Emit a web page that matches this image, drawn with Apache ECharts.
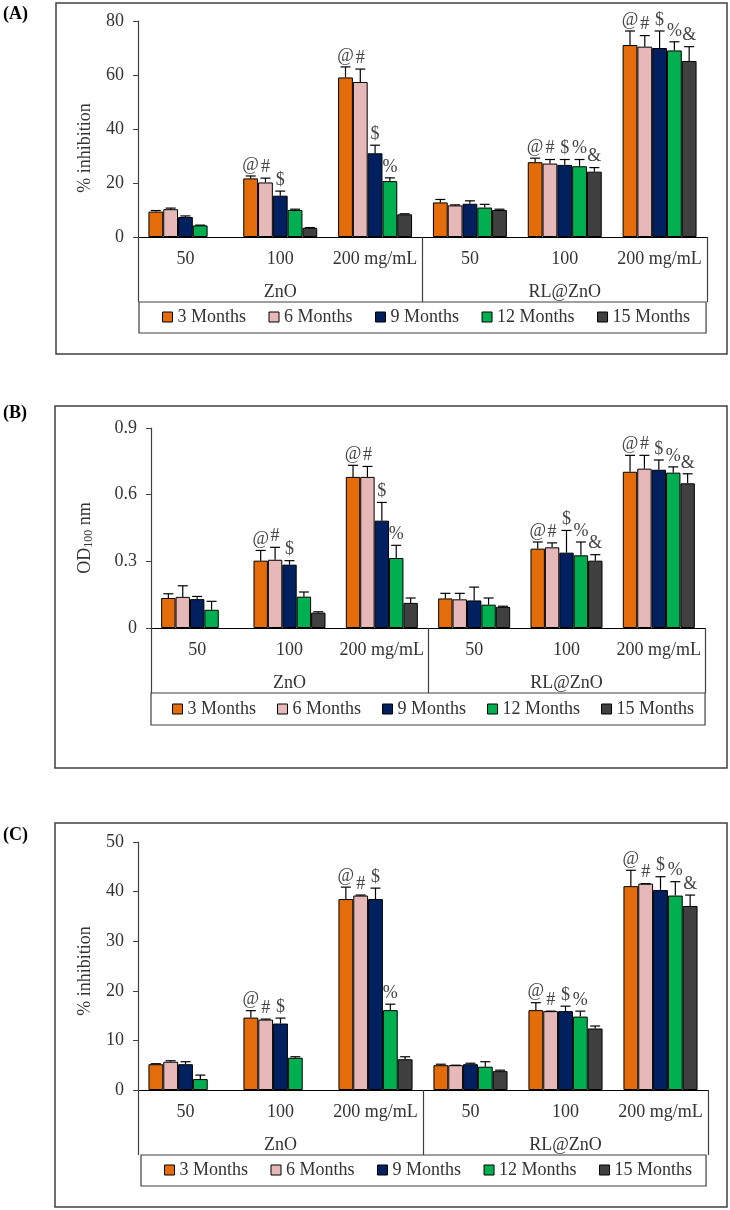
<!DOCTYPE html>
<html>
<head>
<meta charset="utf-8">
<script src="https://cdn.jsdelivr.net/npm/echarts@6/dist/echarts.min.js"></script>
<style>
  html, body { margin: 0; padding: 0; background: #fff; }
  #c { width: 730px; height: 1210px; }
</style>
</head>
<body>
<div id="c"></div>
<script>
// ---------- data ----------
const categories = ['50', '100', '200 mg/mL', '50', '100', '200 mg/mL'];
const groups = ['ZnO', 'RL@ZnO'];
const seriesNames = ['3 Months', '6 Months', '9 Months', '12 Months', '15 Months'];
const markSymbols = ['@', '#', '$', '%', '&'];
const colors = ['#E46C0A', '#E6B9B8', '#002060', '#00B050', '#404040'];

// Panel A: % inhibition
const a3  = [9.4, 21.7, 59.1, 12.8, 27.7, 71.1];
const a6  = [10.3, 20.2, 57.4, 11.7, 27.2, 70.5];
const a9  = [7.4, 15.3, 31.0, 12.3, 26.7, 70.0];
const a12 = [4.3, 10.0, 20.7, 10.9, 26.2, 69.1];
const a15 = [null, 3.4, 8.4, 10.0, 24.2, 65.2];
const a3e  = [0.4, 0.9, 3.9, 1.1, 1.5, 5.2];
const a6e  = [0.4, 1.6, 4.8, 0.2, 1.5, 4.1];
const a9e  = [0.4, 1.7, 3.0, 1.1, 2.0, 6.3];
const a12e = [0.1, 0.3, 1.2, 1.2, 2.5, 3.2];
const a15e = [null, 0.1, 0.2, 0.3, 1.5, 5.3];
const aMarks = [[0,1,1,0,1,1],[0,1,1,0,1,1],[0,1,1,0,1,1],[0,0,1,0,1,1],[0,0,0,0,1,1]];
const aTicks = [0, 80, 20];

// Panel B: OD100 nm
const b3  = [0.135, 0.303, 0.680, 0.133, 0.357, 0.703];
const b6  = [0.140, 0.307, 0.680, 0.129, 0.363, 0.717];
const b9  = [0.130, 0.285, 0.483, 0.124, 0.339, 0.712];
const b12 = [0.082, 0.141, 0.315, 0.105, 0.327, 0.699];
const b15 = [null, 0.069, 0.113, 0.095, 0.303, 0.651];
const b3e  = [0.019, 0.046, 0.052, 0.023, 0.030, 0.074];
const b6e  = [0.050, 0.056, 0.047, 0.027, 0.020, 0.060];
const b9e  = [0.012, 0.018, 0.082, 0.060, 0.100, 0.044];
const b12e = [0.038, 0.021, 0.057, 0.030, 0.060, 0.026];
const b15e = [null, 0.004, 0.022, 0.003, 0.027, 0.043];
const bMarks = [[0,1,1,0,1,1],[0,1,1,0,1,1],[0,1,1,0,1,1],[0,0,1,0,1,1],[0,0,0,0,1,1]];
const bTicks = [0, 0.9, 0.3];

// Panel C: % inhibition
const c3  = [5.2, 14.6, 38.5, 5.0, 16.1, 41.1];
const c6  = [5.7, 14.2, 39.2, 5.0, 15.9, 41.6];
const c9  = [5.2, 13.4, 38.5, 5.2, 15.9, 40.3];
const c12 = [2.2, 6.5, 16.1, 4.7, 14.8, 39.2];
const c15 = [null, null, 6.2, 3.8, 12.4, 37.1];
const c3e  = [0.1, 1.4, 2.4, 0.2, 1.5, 3.2];
const c6e  = [0.2, 0.1, 0.1, 0.0, 0.0, 0.0];
const c9e  = [0.5, 1.1, 2.2, 0.2, 1.0, 2.7];
const c12e = [0.8, 0.2, 1.2, 1.0, 1.1, 2.8];
const c15e = [null, null, 0.5, 0.2, 0.5, 2.2];
const cMarks = [[0,1,1,0,1,1],[0,1,1,0,1,1],[0,1,1,0,1,1],[0,0,1,0,1,1],[0,0,0,0,0,1]];
const cTicks = [0, 50, 10];

// ---------- layout ----------
const FONT = 'Liberation Serif';
const INK = '#333';
const LINE = '#404040';
const GAP_RATIO = 0.22;

const panels = [
  { vals: [a3, a6, a9, a12, a15], errs: [a3e, a6e, a9e, a12e, a15e], marks: aMarks, ticks: aTicks,
    grid: { left: 138, right: 23, top: 21, height: 216 },
    legend: { left: 139, top: 302, padding: [6, 16, 7, 23], gap: 22.5 },
    frame: { x: 56, y: 3, width: 671, height: 351 },
    label: { text: '(A)', x: 3, y: 14 },
    title: { text: '% inhibition', x: 85, y: 148 } },
  { vals: [b3, b6, b9, b12, b15], errs: [b3e, b6e, b9e, b12e, b15e], marks: bMarks, ticks: bTicks,
    grid: { left: 151, right: 25, top: 428, height: 200 },
    legend: { left: 151, top: 693, padding: [7, 11, 7, 21], gap: 21 },
    frame: { x: 55, y: 406, width: 672, height: 362 },
    label: { text: '(B)', x: 3, y: 413 },
    title: { text: '{a|OD}{s|100}{a| nm}', x: 85, y: 538 } },
  { vals: [c3, c6, c9, c12, c15], errs: [c3e, c6e, c9e, c12e, c15e], marks: cMarks, ticks: cTicks,
    grid: { left: 138, right: 22, top: 842, height: 248 },
    legend: { left: 141, top: 1155, padding: [6, 14, 7, 23], gap: 22.5 },
    frame: { x: 55, y: 823, width: 672, height: 384 },
    label: { text: '(C)', x: 3, y: 835 },
    title: { text: '% inhibition', x: 85, y: 971 } }
];

function renderErr(params, api) {
  const cat = api.value(0), s = api.value(1), v = api.value(2), e = api.value(3), m = api.value(4);
  const band = api.size([1, 0])[0];
  const bw = band * (1 - GAP_RATIO) / 5;
  const cx = api.coord([cat, 0])[0] + (s - 2) * bw;
  const yTop = api.coord([cat, v])[1];
  const yErr = api.coord([cat, v + e])[1];
  const ls = { stroke: '#000', lineWidth: 1.2 };
  const children = [
    { type: 'line', shape: { x1: cx, y1: yTop, x2: cx, y2: yErr }, style: ls },
    { type: 'line', shape: { x1: cx - 5, y1: yErr, x2: cx + 5, y2: yErr }, style: ls }
  ];
  if (m) {
    children.push({ type: 'text', style: { text: markSymbols[s], x: cx, y: yErr - 2,
      textAlign: 'center', textVerticalAlign: 'bottom',
      font: '18px "' + FONT + '"', fill: '#444' } });
  }
  return { type: 'group', children };
}

const option = { animation: false, grid: [], xAxis: [], yAxis: [], series: [], legend: [], graphic: [] };

panels.forEach((p, pi) => {
  option.grid.push(Object.assign({ containLabel: false }, p.grid));
  option.xAxis.push({
    type: 'category', gridIndex: pi, data: categories, position: 'bottom',
    axisLine: { show: true, onZero: false, lineStyle: { color: '#000', width: 1.2 } },
    axisTick: { show: false },
    axisLabel: { interval: 0, margin: 13, fontFamily: FONT, fontSize: 18, color: INK }
  });
  option.xAxis.push({
    type: 'category', gridIndex: pi, data: groups, position: 'bottom',
    axisLine: { show: false, onZero: false },
    axisTick: { show: true, interval: 0, length: 65, lineStyle: { color: LINE, width: 1.2 } },
    axisLabel: { interval: 0, margin: 46, fontFamily: FONT, fontSize: 18, color: INK }
  });
  option.yAxis.push({
    type: 'value', gridIndex: pi, min: p.ticks[0], max: p.ticks[1], interval: p.ticks[2],
    axisLine: { show: true, lineStyle: { color: LINE, width: 1.2 } },
    axisTick: { show: true, length: 5, lineStyle: { color: LINE } },
    splitLine: { show: false },
    axisLabel: { margin: 14, fontFamily: FONT, fontSize: 18, color: INK }
  });
  const errRows = [];
  seriesNames.forEach((name, si) => {
    option.series.push({
      type: 'bar', name, xAxisIndex: pi * 2, yAxisIndex: pi,
      data: p.vals[si], barGap: '0%', barCategoryGap: (GAP_RATIO * 100) + '%',
      itemStyle: { color: colors[si], borderColor: '#000', borderWidth: 1 }
    });
    p.vals[si].forEach((v, ci) => {
      if (v !== null) errRows.push([ci, si, v, p.errs[si][ci], p.marks[si][ci]]);
    });
  });
  option.series.push({
    type: 'custom', xAxisIndex: pi * 2, yAxisIndex: pi, silent: true, z: 5,
    renderItem: renderErr, data: errRows, encode: { x: 0, y: 2 }
  });
  option.legend.push({
    data: seriesNames, orient: 'horizontal', left: p.legend.left, top: p.legend.top,
    padding: p.legend.padding, itemGap: p.legend.gap, itemWidth: 10, itemHeight: 10, icon: 'rect',
    borderColor: LINE, borderWidth: 1.2, selectedMode: false,
    itemStyle: { borderColor: '#000', borderWidth: 1 },
    textStyle: { fontFamily: FONT, fontSize: 18, color: INK }
  });
  option.graphic.push({
    type: 'rect', shape: p.frame, style: { fill: 'none', stroke: LINE, lineWidth: 1.5 }, silent: true
  });
  option.graphic.push({
    type: 'text', x: p.label.x, y: p.label.y,
    style: { text: p.label.text, font: 'bold 18px "' + FONT + '"', fill: '#000',
      textAlign: 'left', textVerticalAlign: 'middle' }
  });
  option.graphic.push({
    type: 'text', x: p.title.x, y: p.title.y, rotation: Math.PI / 2,
    style: { text: p.title.text, font: '18px "' + FONT + '"', fill: INK,
      textAlign: 'center', textVerticalAlign: 'middle',
      rich: { a: { fontFamily: FONT, fontSize: 18, fill: INK },
              s: { fontFamily: FONT, fontSize: 12, fill: INK, verticalAlign: 'bottom', padding: [8, 0, 0, 0] } } }
  });
});

const chart = echarts.init(document.getElementById('c'));
chart.setOption(option);
</script>
</body>
</html>
